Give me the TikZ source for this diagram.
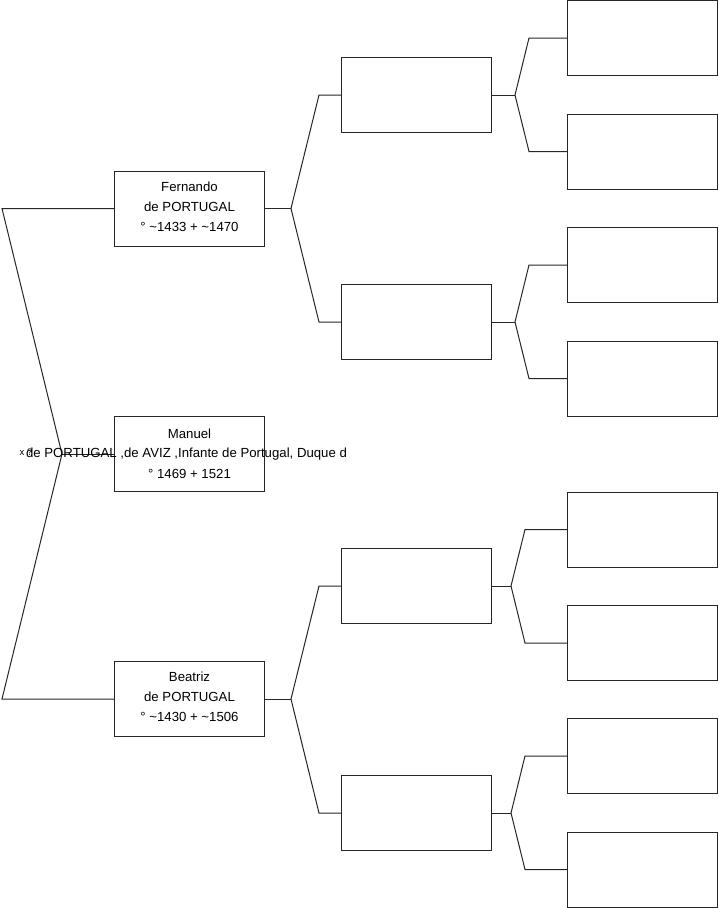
\documentclass[tikz,border=0pt]{standalone}
\usepackage{fontspec}
\setmainfont{Liberation Sans}
\begin{document}
\begin{tikzpicture}[x=1pt,y=-1pt,
  pbox/.style={draw=black!85,line width=1pt,minimum width=150pt,minimum height=75pt,inner sep=0pt,fill=white},
  ptext/.style={align=center,font=\fontsize{13.2}{20}\selectfont,inner sep=0pt},
  conn/.style={draw=black!85,line width=1pt,line join=miter}]
\useasboundingbox (0,0) rectangle (719,908);
% connector points
\coordinate (cF) at (2,208.5);
\coordinate (cB) at (2,699);
\coordinate (vL) at (62,454);
\coordinate (vF) at (291,208.5);
\coordinate (vB) at (291,699);
\coordinate (a1) at (319,95);
\coordinate (a2) at (319,322);
\coordinate (a3) at (319,586);
\coordinate (a4) at (319,813);
\coordinate (v1) at (515,95);
\coordinate (v2) at (515,322);
\coordinate (v3) at (511,586);
\coordinate (v4) at (511,813);
\coordinate (b1) at (529,38);
\coordinate (b2) at (529,151.5);
\coordinate (b3) at (529,265);
\coordinate (b4) at (529,378.5);
\coordinate (b5) at (525,529.5);
\coordinate (b6) at (525,643);
\coordinate (b7) at (525,756);
\coordinate (b8) at (525,869.5);
% level 1
\node[pbox] (F) at (189.5,208.5) {};
\node[pbox] (M) at (189.5,454) {};
\node[pbox] (B) at (189.5,699) {};
% level 2
\node[pbox] (P1) at (416.5,95) {};
\node[pbox] (P2) at (416.5,322) {};
\node[pbox] (P3) at (416.5,586) {};
\node[pbox] (P4) at (416.5,813) {};
% level 3
\node[pbox] (G1) at (642.5,38) {};
\node[pbox] (G2) at (642.5,151.5) {};
\node[pbox] (G3) at (642.5,265) {};
\node[pbox] (G4) at (642.5,378.5) {};
\node[pbox] (G5) at (642.5,529.5) {};
\node[pbox] (G6) at (642.5,643) {};
\node[pbox] (G7) at (642.5,756) {};
\node[pbox] (G8) at (642.5,869.5) {};
% connectors
\draw[conn] (F.west) -- (cF) -- (vL) -- (cB) -- (B.west);
\draw[conn] (vL) -- (M.west);
\draw[conn] (F.east) -- (vF);
\draw[conn] (P1.west) -- (a1) -- (vF) -- (a2) -- (P2.west);
\draw[conn] (B.east) -- (vB);
\draw[conn] (P3.west) -- (a3) -- (vB) -- (a4) -- (P4.west);
\draw[conn] (P1.east) -- (v1);
\draw[conn] (G1.west) -- (b1) -- (v1) -- (b2) -- (G2.west);
\draw[conn] (P2.east) -- (v2);
\draw[conn] (G3.west) -- (b3) -- (v2) -- (b4) -- (G4.west);
\draw[conn] (P3.east) -- (v3);
\draw[conn] (G5.west) -- (b5) -- (v3) -- (b6) -- (G6.west);
\draw[conn] (P4.east) -- (v4);
\draw[conn] (G7.west) -- (b7) -- (v4) -- (b8) -- (G8.west);
% texts
\node[ptext] (tF) at ([yshift=2pt]F.center) {Fernando\\de PORTUGAL\\° \textasciitilde1433 + \textasciitilde1470};
\node[ptext] (tB) at ([yshift=2pt]B.center) {Beatriz\\de PORTUGAL\\° \textasciitilde1430 + \textasciitilde1506};
\node[ptext] (tM1) at (189.5,434) {Manuel};
\node[ptext] (tM2) at (186.5,454) {\makebox[0pt]{de PORTUGAL ,de AVIZ ,Infante de Portugal, Duque d}};
\node[ptext] (tM3) at (189.5,474) {° 1469 + 1521};
\node[inner sep=0pt,font=\fontsize{9.5}{10}\selectfont] (xq) at (26,452) {x ?};
\end{tikzpicture}
\end{document}
